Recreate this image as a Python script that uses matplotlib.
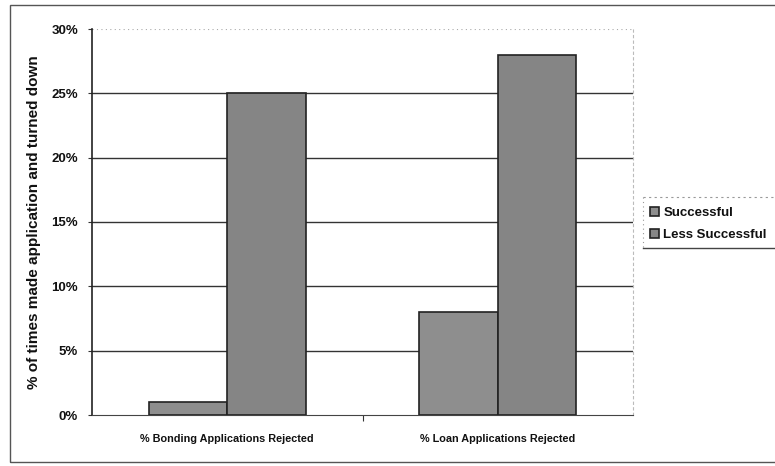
import matplotlib
matplotlib.use("Agg")
import matplotlib.pyplot as plt
from matplotlib.patches import Rectangle
from matplotlib.lines import Line2D
from matplotlib.ticker import FuncFormatter, MultipleLocator
import numpy as np

categories = ["% Bonding Applications Rejected", "% Loan Applications Rejected"]
series_names = ["Successful", "Less Successful"]
successful = [1, 8]
less_successful = [25, 28]

plt.rcParams["font.family"] = ["Liberation Sans", "DejaVu Sans"]

W, H = 775, 466
AX_L, AX_R, AX_T, AX_B = 92, 633, 29, 415
fig = plt.figure(figsize=(W / 100, H / 100), dpi=100)
ax = fig.add_axes([AX_L / W, 1 - AX_B / H, (AX_R - AX_L) / W, (AX_B - AX_T) / H])


def fx(px):
    return px / W


def fy(py):
    return 1 - py / H


x = np.arange(len(categories))
width = 0.29
b1 = ax.bar(x - width / 2, successful, width, color="#8e8e8e", edgecolor="#222222",
            linewidth=1.2, label=series_names[0], zorder=3)
b2 = ax.bar(x + width / 2, less_successful, width, color="#858585", edgecolor="#222222",
            linewidth=1.2, label=series_names[1], zorder=3)

ax.set_xlim(-0.5, 1.5)
ax.set_ylim(0, 30)
ax.yaxis.set_major_locator(MultipleLocator(5))
ax.yaxis.set_major_formatter(FuncFormatter(lambda v, p: f"{int(v)}%"))

# horizontal gridlines
for v in range(5, 30, 5):
    ax.axhline(v, color="#333333", linewidth=1.0, zorder=1)
ax.axhline(30, color="#aaaaaa", linewidth=0.8, linestyle=(0, (1, 3)), zorder=1)

ax.set_xticks(x)
ax.set_xticklabels(categories, fontsize=7.8, fontweight="bold", color="#111111")
ax.tick_params(axis="x", length=0, pad=14)
ax.set_xticks([0.5], minor=True)
ax.tick_params(axis="x", which="minor", length=4, width=0.8, color="#333333")
ax.tick_params(axis="y", length=3, width=0.8, color="#333333", labelsize=9.5,
               labelcolor="#111111", pad=7)
for lab in ax.get_yticklabels():
    lab.set_fontweight("bold")

ax.spines["top"].set_visible(False)
ax.spines["right"].set_color("#bbbbbb")
ax.spines["right"].set_linestyle((0, (2, 3)))
ax.spines["right"].set_linewidth(0.8)
ax.spines["left"].set_color("#222222")
ax.spines["bottom"].set_color("#444444")
ax.spines["left"].set_linewidth(1.2)
ax.spines["bottom"].set_linewidth(0.8)

ax.set_ylabel("% of times made application and turned down", fontsize=11,
              fontweight="bold", color="#111111")
ax.yaxis.label.set_verticalalignment("center")
ax.yaxis.set_label_coords((34 - AX_L) / (AX_R - AX_L), 0.5)

# legend box, running off the right edge
fig.add_artist(Line2D([fx(643), fx(780)], [fy(197), fy(197)], color="#999999",
                      linewidth=0.8, linestyle=(0, (2, 3))))
fig.add_artist(Line2D([fx(643), fx(643)], [fy(197), fy(248)], color="#999999",
                      linewidth=0.8, linestyle=(0, (1, 3))))
fig.add_artist(Line2D([fx(643), fx(780)], [fy(248), fy(248)], color="#444444",
                      linewidth=1.0))

leg = fig.legend(handles=[b1, b2], labels=series_names, loc="upper left",
                 bbox_to_anchor=(fx(650), fy(207)),
                 prop={"size": 9.5, "weight": "bold"},
                 frameon=False, handlelength=0.7, handleheight=0.7,
                 handletextpad=0.3, borderpad=0.0, labelspacing=0.75,
                 borderaxespad=0)
for t in leg.get_texts():
    t.set_color("#111111")

# chart area frame
fig.patches.append(Rectangle((fx(10), fy(462)), (W + 20) / W, (462 - 5) / H,
                             transform=fig.transFigure, fill=False,
                             edgecolor="#555555", linewidth=1.0))

fig.savefig("out.png", dpi=100)
